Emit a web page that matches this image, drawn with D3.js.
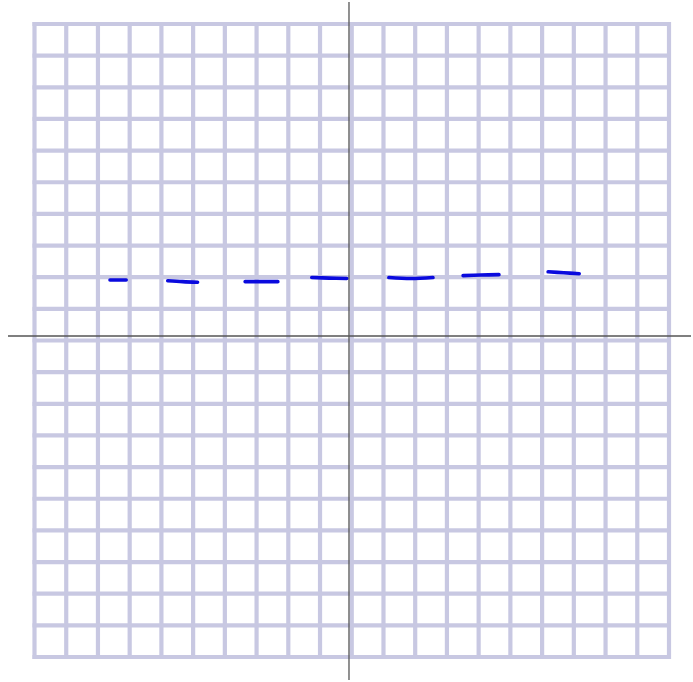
<!DOCTYPE html>
<html><head><meta charset="utf-8">
<script src="https://cdn.jsdelivr.net/npm/d3@7"></script>
<style>html,body{margin:0;padding:0;background:#fff;}svg{display:block;}</style>
</head><body>
<script>
// grid ticks (data units)
const gridTicks = d3.range(-10, 11, 1);
// axis position (data units), slightly off the central grid line as in the reference
const axisX0 = [-0.087];
const axisY0 = [0.142];
// hand-drawn dashes: start / middle / end x and y values
const dashX1 = [-7.62, -5.80, -3.36, -1.26, 1.17, 3.51, 6.19];
const dashX2 = [-7.11, -4.86, -2.33, -0.16, 2.56, 4.64, 7.17];
const dashY1 = [1.91, 1.89, 1.86, 1.99, 1.99, 2.05, 2.17];
const dashYm = [1.91, 1.86, 1.86, 1.97, 1.96, 2.07, 2.14];
const dashY2 = [1.91, 1.84, 1.86, 1.96, 1.99, 2.08, 2.11];

const W = 693, H = 682;
const svg = d3.select("body").append("svg").attr("width", W).attr("height", H);
const defs = svg.append("defs");
defs.append("filter").attr("id", "soft").append("feGaussianBlur").attr("stdDeviation", 0.5);
const x = d3.scaleLinear().domain([-10, 10]).range([34.5, 669]);
const y = d3.scaleLinear().domain([-10, 10]).range([657, 24]);

const g = svg.append("g").attr("filter", "url(#soft)");
g.selectAll("line.gv").data(gridTicks).join("line").attr("class","gv")
  .attr("x1", d => x(d)).attr("x2", d => x(d)).attr("y1", y(10) - 2).attr("y2", y(-10) + 2)
  .attr("stroke", "#c8c8e2").attr("stroke-width", 4.2);
g.selectAll("line.gh").data(gridTicks).join("line").attr("class","gh")
  .attr("y1", d => y(d)).attr("y2", d => y(d)).attr("x1", x(-10) - 2).attr("x2", x(10) + 2)
  .attr("stroke", "#c8c8e2").attr("stroke-width", 4.2);

// axes
svg.selectAll("line.ax").data(axisX0).join("line").attr("class","ax")
  .attr("x1", d => x(d)).attr("x2", d => x(d)).attr("y1", 2).attr("y2", 680)
  .attr("stroke", "#555").attr("stroke-width", 1.3);
svg.selectAll("line.ay").data(axisY0).join("line").attr("class","ay")
  .attr("y1", d => y(d)).attr("y2", d => y(d)).attr("x1", 8).attr("x2", 691)
  .attr("stroke", "#555").attr("stroke-width", 1.3);

// dashes
const dashes = dashX1.map((d, i) => ({x1: d, x2: dashX2[i], y1: dashY1[i], ym: dashYm[i], y2: dashY2[i]}));
const line = d3.line().curve(d3.curveCatmullRom).x(p => x(p[0])).y(p => y(p[1]));
svg.selectAll("path.dash").data(dashes).join("path").attr("class","dash")
  .attr("d", d => line([[d.x1, d.y1], [(d.x1 + d.x2) / 2, d.ym], [d.x2, d.y2]]))
  .attr("fill", "none").attr("stroke", "#0a0ade").attr("stroke-width", 3.6)
  .attr("stroke-linecap", "round");
</script>
</body></html>
